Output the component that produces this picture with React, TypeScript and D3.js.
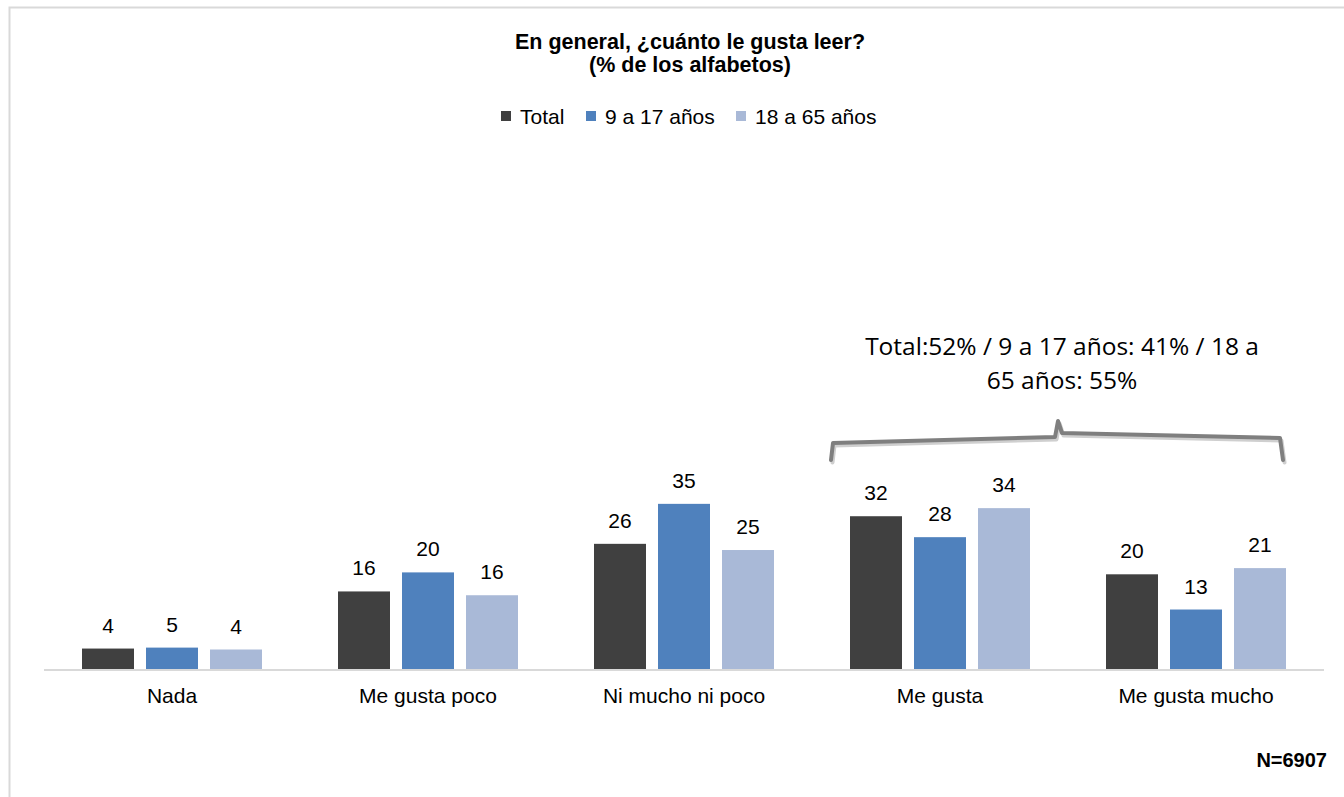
import React, { useEffect, useRef } from 'react';
import * as d3 from 'd3';

const categories = ['Nada', 'Me gusta poco', 'Ni mucho ni poco', 'Me gusta', 'Me gusta mucho'];
const seriesNames = ['Total', '9 a 17 años', '18 a 65 años'];
const totalValues = [4.4, 16.4, 26.4, 32.2, 20.0];
const youngValues = [4.6, 20.4, 34.8, 27.8, 12.6];
const adultValues = [4.2, 15.6, 25.1, 33.9, 21.3];
const seriesColors = ['#404040', '#4f81bd', '#a9b9d7'];
const titleLines = ['En general, ¿cuánto le gusta leer?', '(% de los alfabetos)'];
const noteLines = ['Total:52% / 9 a 17 años: 41% / 18 a', '65 años: 55%'];
const sampleLabel = 'N=6907';

const App: React.FC = () => {
  const svgRef = useRef<SVGSVGElement>(null);

  useEffect(() => {
    const svg = d3.select(svgRef.current);
    svg.selectAll('*').remove();

    const width = 1344;
    const baseline = 669.5;
    const allSeries = [totalValues, youngValues, adultValues];
    const font = 'Liberation Sans, Arial, sans-serif';

    // outer border
    svg.append('rect')
      .attr('x', 9.5).attr('y', 7.5)
      .attr('width', 1350).attr('height', 820)
      .attr('fill', '#fff')
      .attr('stroke', '#d9d9d9')
      .attr('stroke-width', 2);

    const x0 = d3.scaleBand<string>().domain(categories).range([44, 1324]);
    const x1 = d3.scaleBand<string>().domain(seriesNames).range([38, 218]).paddingInner(0.1875);
    const y = d3.scaleLinear().domain([0, 100]).range([baseline, baseline - 476]);

    // title
    svg.append('g')
      .selectAll('text')
      .data(titleLines)
      .join('text')
      .attr('x', 690)
      .attr('y', (d, i) => 48.5 + i * 23)
      .attr('text-anchor', 'middle')
      .style('font-family', font)
      .style('font-weight', 'bold')
      .style('font-size', '21.5px')
      .attr('fill', '#000')
      .text(d => d);

    // legend
    const legendX = [501, 586, 736];
    const legend = svg.append('g')
      .selectAll('g')
      .data(seriesNames)
      .join('g')
      .attr('transform', (d, i) => `translate(${legendX[i]},116)`);
    legend.append('rect')
      .attr('x', 0).attr('y', -5)
      .attr('width', 10).attr('height', 10)
      .attr('fill', (d, i) => seriesColors[i]);
    legend.append('text')
      .attr('x', 19).attr('y', 7.5)
      .style('font-family', font)
      .style('font-size', '21px')
      .attr('fill', '#000')
      .text(d => d);

    // bars
    const groups = svg.append('g')
      .selectAll('g')
      .data(categories)
      .join('g')
      .attr('transform', d => `translate(${x0(d)},0)`);

    seriesNames.forEach((name, si) => {
      groups.append('rect')
        .attr('x', x1(name)!)
        .attr('width', x1.bandwidth())
        .attr('y', (d, ci) => y(allSeries[si][ci]))
        .attr('height', (d, ci) => baseline - y(allSeries[si][ci]))
        .attr('fill', seriesColors[si]);
      groups.append('text')
        .attr('x', x1(name)! + x1.bandwidth() / 2)
        .attr('y', (d, ci) => y(allSeries[si][ci]) - 16)
        .attr('text-anchor', 'middle')
        .style('font-family', font)
        .style('font-size', '21px')
        .attr('fill', '#000')
        .text((d, ci) => Math.round(allSeries[si][ci]));
    });

    // x axis
    svg.append('line')
      .attr('x1', 44).attr('x2', 1324)
      .attr('y1', baseline + 0.5).attr('y2', baseline + 0.5)
      .attr('stroke', '#d9d9d9')
      .attr('stroke-width', 2);

    svg.append('g')
      .selectAll('text')
      .data(categories)
      .join('text')
      .attr('x', d => x0(d)! + x0.bandwidth() / 2)
      .attr('y', 703)
      .attr('text-anchor', 'middle')
      .style('font-family', font)
      .style('font-size', '21px')
      .attr('fill', '#000')
      .text(d => d);

    // bracket annotation
    const bracket = 'M831,460 L833,443 L1055,437 L1058,421 L1062,433 L1280,438 L1283,460';
    svg.append('path')
      .attr('d', bracket)
      .attr('transform', 'translate(1.5,2.5)')
      .attr('fill', 'none')
      .attr('stroke', '#cfcfcf')
      .attr('stroke-width', 4)
      .attr('stroke-linejoin', 'round')
      .attr('stroke-linecap', 'round');
    svg.append('path')
      .attr('d', bracket)
      .attr('fill', 'none')
      .attr('stroke', '#7f7f7f')
      .attr('stroke-width', 4)
      .attr('stroke-linejoin', 'round')
      .attr('stroke-linecap', 'round');

    svg.append('g')
      .selectAll('text')
      .data(noteLines)
      .join('text')
      .attr('x', 1062)
      .attr('y', (d, i) => 355 + i * 34)
      .attr('text-anchor', 'middle')
      .style('font-family', 'Open Sans, DejaVu Sans, sans-serif')
      .style('font-size', '24.5px')
      .attr('fill', '#000')
      .text(d => d);

    // sample size
    svg.append('text')
      .attr('x', width - 17)
      .attr('y', 767)
      .attr('text-anchor', 'end')
      .style('font-family', font)
      .style('font-weight', 'bold')
      .style('font-size', '20px')
      .attr('fill', '#000')
      .text(sampleLabel);
  }, []);

  return (
    <svg
      ref={svgRef}
      width={1344}
      height={797}
      style={{ position: 'absolute', left: 0, top: 0, background: '#fff' }}
    />
  );
};

export default App;
